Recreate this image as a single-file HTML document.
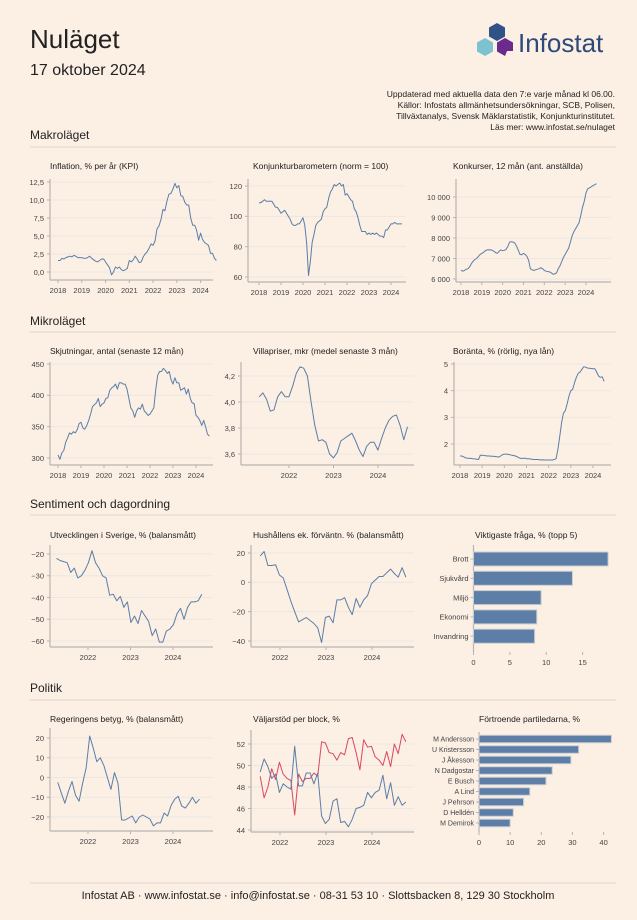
<!DOCTYPE html>
<html><head><meta charset="utf-8">
<style>
html,body{margin:0;padding:0;background:#fcefe4;}
body{width:637px;height:915px;position:relative;overflow:hidden;font-family:"Liberation Sans",sans-serif;color:#2a2a2a;}
svg text{font-family:"Liberation Sans",sans-serif;}
</style></head>
<body>
<svg id="page" width="637" height="915" viewBox="0 0 637 915" xmlns="http://www.w3.org/2000/svg">
  <text x="30" y="48" font-size="26" fill="#222">Nuläget</text>
  <text x="30" y="75" font-size="16" fill="#222">17 oktober 2024</text>
  <g>
    <polygon points="497,23 505,27.5 505,36.5 497,41 489,36.5 489,27.5" fill="#2f5287"/>
    <polygon points="485,38 493,42.5 493,51.5 485,56 477,51.5 477,42.5" fill="#7cc3cf"/>
    <polygon points="505,38 513,42.5 513,51 507,51 505,56 497,51.5 497,42.5" fill="#6a2a8e"/>
    <text x="518" y="52" font-size="26" fill="#2d4a7a">Infostat</text>
  </g>
  <g font-size="8.5" fill="#222" text-anchor="end">
    <text x="615" y="97">Uppdaterad med aktuella data den 7:e varje månad kl 06.00.</text>
    <text x="615" y="108">Källor: Infostats allmänhetsundersökningar, SCB, Polisen,</text>
    <text x="615" y="119">Tillväxtanalys, Svensk Mäklarstatistik, Konjunkturinstitutet.</text>
    <text x="615" y="130">Läs mer: www.infostat.se/nulaget</text>
  </g>
  <g font-size="12" fill="#222">
    <text x="30" y="139">Makroläget</text>
    <text x="30" y="325">Mikroläget</text>
    <text x="30" y="508">Sentiment och dagordning</text>
    <text x="30" y="692">Politik</text>
  </g>
  <g stroke="#e0d6cc" stroke-width="1">
    <line x1="30" x2="616" y1="147" y2="147"/>
    <line x1="30" x2="616" y1="332" y2="332"/>
    <line x1="30" x2="616" y1="515" y2="515"/>
    <line x1="30" x2="616" y1="700" y2="700"/>
    <line x1="30" x2="616" y1="883" y2="883"/>
  </g>
  <text x="318" y="899" font-size="11" fill="#222" text-anchor="middle">Infostat AB  ·  www.infostat.se  ·  info@infostat.se  ·  08-31 53 10  ·  Slottsbacken 8, 129 30  Stockholm</text>
  <g id="charts"></g>
</svg>
<script>
// ---- data ----
const yearsFull=[2018,2019,2020,2021,2022,2023,2024];
const years3=[2022,2023,2024];
const inflTicks=[0,2.5,5,7.5,10,12.5];
const inflValues=[1.6,1.6,1.9,1.8,2.0,2.1,2.2,2.1,2.3,2.2,2.0,2.0, 2.0,1.9,1.9,2.0,2.2,1.9,1.7,1.5,1.4,1.6,1.8,1.8, 1.4,1.0,0.6,-0.4,0.0,0.7,0.5,0.7,0.3,0.2,0.3,0.5, 1.6,1.4,1.7,2.2,1.8,1.3,1.4,2.1,2.5,2.8,3.3,3.9, 3.7,4.3,6.0,6.4,7.3,8.7,8.5,9.8,10.8,10.9,11.5,12.3, 11.7,12.0,10.6,10.5,9.7,9.3,9.3,7.5,6.5,6.5,5.8,4.4, 5.4,4.5,4.1,3.9,3.7,2.6,2.6,1.9,1.6];
const konjTicks=[60,80,100,120];
const konjValues=[109,109,110,111,110,110,110,110,108,106,106,104, 102,103,104,102,100,98,95,94,94,95,95,97, 99,94,82,61,70,83,88,94,96,97,98,103, 105,106,112,116,118,121,120,121,122,120,121,114, 115,113,111,110,105,103,99,94,90,90,90,88, 89,88,89,88,89,88,87,87,86,91,91,93, 95,95,96,95,95,95,95];
const konkTicks=[6000,7000,8000,9000,10000];
const konkValues=[6430,6380,6420,6480,6500,6600,6750,6870,6950,7000,7100,7200, 7250,7300,7380,7420,7430,7420,7400,7350,7280,7260,7350,7420, 7380,7400,7450,7600,7800,7820,7800,7750,7600,7400,7200,7180, 7250,7200,7100,6900,6500,6450,6420,6450,6480,6500,6550,6500, 6420,6380,6360,6350,6300,6230,6250,6300,6500,6650,6850,7050, 7200,7350,7500,7800,8100,8300,8450,8600,8750,9100,9500,9800, 10200,10400,10450,10500,10550,10600,10650];
const skjTicks=[300,350,400,450];
const skjValues=[305,298,308,312,325,332,340,338,342,340,345,355, 357,348,346,352,360,370,382,385,388,395,382,386, 388,395,396,408,412,414,418,410,420,420,418,418, 410,395,380,375,365,375,380,378,386,375,372,368, 370,375,380,410,432,438,438,443,440,435,438,425, 418,428,420,420,408,410,412,402,410,395,388,387, 368,365,360,352,360,350,338,335];
const villaTicks=[3.6,3.8,4.0,4.2];
const villaStart=2021.33;
const villaValues=[4.04,4.07,4.02,3.93,3.94,4.04,4.08,4.04,4.04,4.12,4.22,4.27,4.26,4.20,4.00,3.82,3.70,3.71,3.69,3.60,3.57,3.61,3.70,3.72,3.74,3.76,3.70,3.63,3.58,3.66,3.69,3.69,3.63,3.72,3.80,3.86,3.89,3.90,3.82,3.71,3.81];
const borTicks=[2,3,4,5];
const borValues=[1.55,1.55,1.52,1.48,1.47,1.46,1.46,1.45,1.44,1.43,1.42,1.58, 1.58,1.57,1.56,1.55,1.55,1.54,1.54,1.53,1.52,1.51,1.55,1.60, 1.62,1.62,1.61,1.60,1.58,1.57,1.55,1.52,1.48,1.46,1.46,1.47, 1.45,1.45,1.44,1.43,1.42,1.42,1.42,1.41,1.40,1.41,1.40,1.40, 1.40,1.40,1.40,1.42,1.45,1.80,2.30,2.80,3.15,3.25,3.50,3.80, 4.00,4.05,4.30,4.50,4.65,4.70,4.80,4.90,4.88,4.85,4.84,4.83, 4.82,4.82,4.70,4.55,4.50,4.52,4.35];
const utvTicks=[-60,-50,-40,-30,-20];
const utvStart=2021.26;
const utvValues=[-22,-23,-23.5,-24,-28.5,-26.5,-31,-30,-27.5,-24,-18.5,-24,-26.5,-30,-31,-39,-38.5,-41.5,-39.5,-44.5,-42,-51.5,-48.5,-52,-46,-48.5,-51,-57.5,-54.5,-60.5,-60.5,-55.5,-54.5,-52.5,-47.5,-45,-50,-44.5,-42,-42,-41.5,-38.5];
const hushTicks=[-40,-20,0,20];
const hushStart=2021.57;
const hushValues=[18,21,11.5,11.5,12,5,3,-5,-13,-20,-27,-25.5,-24,-26,-28,-31,-41,-24,-23,-27.5,-12,-12,-10.5,-17,-22,-11,-17,-12,-9,-1,1.5,4,4,6.5,9,6,3.5,10,3.5];
const fragaCats=["Brott","Sjukvård","Miljö","Ekonomi","Invandring"];
const fragaValues=[18.5,13.6,9.3,8.7,8.4];
const fragaTicks=[0,5,10,15];
const regTicks=[-20,-10,0,10,20];
const regStart=2021.29;
const regValues=[-2.5,-8,-13,-7,-2,-9,-12,-3,5,21,15,8,10,6,0,-6,2.5,-3,-21.5,-21.5,-20.5,-19.5,-23,-20,-19,-20,-21,-24.5,-23,-23,-18,-19.5,-14,-11,-9.5,-14.5,-15.5,-13,-10,-13,-11];
const valjTicks=[44,46,48,50,52];
const valjStart=2021.57;
const valjRed=[49,47,48,49.7,48.7,50.3,49.2,48.8,48.6,45.4,49.2,48.5,48.8,48.8,49.3,49,52.2,52.1,51.2,51.1,50.5,51.2,51,52.5,52.6,51.2,49.6,52.4,51.7,51.8,50.8,50.5,50,51.3,49.9,52,51.1,52.9,52.2];
const valjBlue=[49.4,50.6,49.9,48.8,49.2,47.5,48.3,48,47.8,51.8,48.1,48.1,49.3,49.3,48.3,49.3,45.3,44.6,45,46.7,46.9,44.7,44.8,44.3,45,46,46.1,46.3,47.5,47,47.5,47.7,49.1,46.9,48.4,46.3,47.1,46.3,46.6];
const ledCats=["M Andersson","U Kristersson","J Åkesson","N Dadgostar","E Busch","A Lind","J Pehrson","D Helldén","M Demirok"];
const ledValues=[42.5,32,29.5,23.5,21.5,16.3,14.3,11,10];
const ledTicks=[0,10,20,30,40];

// ---- drawing ----
const NS="http://www.w3.org/2000/svg";
const root=document.getElementById('charts');
function el(tag,attrs,parent){const e=document.createElementNS(NS,tag);for(const k in attrs)e.setAttribute(k,attrs[k]);(parent||root).appendChild(e);return e;}
function lin(d0,d1,r0,r1){return v=>r0+(v-d0)*(r1-r0)/(d1-d0);}
function fmt(v,dec){let s=dec?v.toFixed(dec).replace('.',','):String(Math.abs(v)>=1000?String(v).replace(/\B(?=(\d{3})+(?!\d))/g,' '):v);if(v<0&&!dec)s='−'+String(Math.abs(v));return s;}
const BLUE="#5a7ea8",RED="#d9485e",GRID="#ece7e3",AX="#b9b4b0",TXT="#444";

function lineChart(name,title,o){
  const g=el('g',{});
  
  
  const t=el('text',{x:o.tx,y:o.ty,'font-size':8.5,fill:'#222'},g);t.textContent=title;
  
  
  o.yTicks.forEach(v=>{
    const y=o.ys(v);
    el('line',{x1:o.ax,x2:o.right,y1:y,y2:y,stroke:GRID,'stroke-width':1},g);
    el('line',{x1:o.ax-3,x2:o.ax,y1:y,y2:y,stroke:AX,'stroke-width':1},g);
    const tt=el('text',{x:o.ax-6,y:y+2.8,'font-size':7.5,fill:TXT,'text-anchor':'end'},g);
    tt.textContent=o.fmt(v);
    
    
  });
  el('line',{x1:o.ax,x2:o.ax,y1:o.top,y2:o.bottom,stroke:AX,'stroke-width':1.2},g);
  el('line',{x1:o.ax,x2:o.right,y1:o.bottom,y2:o.bottom,stroke:AX,'stroke-width':1.2},g);
  o.xTicks.forEach(yr=>{
    const x=o.xs(yr);
    el('line',{x1:x,x2:x,y1:o.bottom,y2:o.bottom+3,stroke:AX},g);
    const tt=el('text',{x:x,y:o.bottom+13,'font-size':7.5,fill:TXT,'text-anchor':'middle'},g);
    tt.textContent=yr;
    
    
  });
  o.series.forEach(s=>{
    const d=s.values.map((v,i)=>(i?'L':'M')+o.xs(s.start+i/12).toFixed(1)+','+o.ys(v).toFixed(1)).join('');
    const p=el('path',{d:d,fill:'none',stroke:s.color,'stroke-width':1,'stroke-linejoin':'round'},g);
    
    
  });
}
function barChart(name,title,o){
  const g=el('g',{});
  
  
  const t=el('text',{x:o.tx,y:o.ty,'font-size':8.5,fill:'#222'},g);t.textContent=title;
  
  
  el('line',{x1:o.ax,x2:o.ax,y1:o.top,y2:o.bottom,stroke:AX,'stroke-width':1.2},g);
  o.ticks.forEach(v=>{
    const x=o.xs(v);
    el('line',{x1:x,x2:x,y1:o.bottom,y2:o.bottom+3,stroke:AX},g);
    const tt=el('text',{x:x,y:o.bottom+13,'font-size':7.5,fill:TXT,'text-anchor':'middle'},g);
    tt.textContent=v;
    
    
  });
  o.cats.forEach((c,i)=>{
    const yc=o.y0+i*o.step;
    const r=el('rect',{x:o.ax,y:yc-o.bh/2,width:o.xs(o.values[i])-o.ax,height:o.bh,fill:'#5d7ea6',stroke:'#c9cdd3','stroke-width':1},g);
    
    
    el('line',{x1:o.ax-3,x2:o.ax,y1:yc,y2:yc,stroke:AX},g);
    const tt=el('text',{x:o.ax-5,y:yc+2.7,'font-size':o.fs,fill:TXT,'text-anchor':'end'},g);
    tt.textContent=c;
    
    
  });
}
const f0=v=>fmt(v), f1=v=>v.toFixed(1).replace('.',','), fK=v=>String(v).replace(/\B(?=(\d{3})+(?!\d))/g,' '), fNeg=v=>v<0?'−'+Math.abs(v):String(v);

lineChart('inflation-chart','Inflation, % per år (KPI)',{tx:50,ty:169,ax:50,right:213,top:179,bottom:280,xs:lin(2018,2024,58,200.6),ys:lin(0,12.5,272,182),yTicks:inflTicks,xTicks:yearsFull,fmt:f1,series:[{name:'inflation-line',values:inflValues,start:2018,color:BLUE}]});
lineChart('konjunktur-chart','Konjunkturbarometern (norm = 100)',{tx:253,ty:169,ax:248,right:406,top:179,bottom:282,xs:lin(2018,2024,259,391),ys:lin(60,120,277,186),yTicks:konjTicks,xTicks:yearsFull,fmt:f0,series:[{name:'konjunktur-line',values:konjValues,start:2018,color:BLUE}]});
lineChart('konkurser-chart','Konkurser, 12 mån (ant. anställda)',{tx:453,ty:169,ax:456,right:611,top:179,bottom:282,xs:lin(2018,2024,461,586),ys:lin(6000,10000,279,197),yTicks:konkTicks,xTicks:yearsFull,fmt:fK,series:[{name:'konkurser-line',values:konkValues,start:2018,color:BLUE}]});

lineChart('skjutningar-chart','Skjutningar, antal (senaste 12 mån)',{tx:50,ty:354,ax:50,right:213,top:362,bottom:465,xs:lin(2018,2024,58,196),ys:lin(300,450,458,364),yTicks:skjTicks,xTicks:yearsFull,fmt:f0,series:[{name:'skjutningar-line',values:skjValues,start:2018,color:BLUE}]});
lineChart('villapriser-chart','Villapriser, mkr (medel senaste 3 mån)',{tx:253,ty:354,ax:241,right:414,top:362,bottom:465,xs:lin(2022,2024,289,378),ys:lin(3.6,4.2,454,376),yTicks:villaTicks,xTicks:years3,fmt:f1,series:[{name:'villapriser-line',values:villaValues,start:villaStart,color:BLUE}]});
lineChart('boranta-chart','Boränta, % (rörlig, nya lån)',{tx:453,ty:354,ax:454,right:611,top:362,bottom:465,xs:lin(2018,2024,460,593),ys:lin(2,5,444,364),yTicks:borTicks,xTicks:yearsFull,fmt:f0,series:[{name:'boranta-line',values:borValues,start:2018,color:BLUE}]});

lineChart('utvecklingen-chart','Utvecklingen i Sverige, % (balansmått)',{tx:50,ty:538,ax:50,right:213,top:545,bottom:647,xs:lin(2022,2024,88,173),ys:lin(-60,-20,641,554),yTicks:utvTicks,xTicks:years3,fmt:fNeg,series:[{name:'utvecklingen-line',values:utvValues,start:utvStart,color:BLUE}]});
lineChart('hushall-chart','Hushållens ek. förväntn. % (balansmått)',{tx:253,ty:538,ax:251,right:414,top:545,bottom:647,xs:lin(2022,2024,280,372),ys:lin(-40,20,641,553),yTicks:hushTicks,xTicks:years3,fmt:fNeg,series:[{name:'hushall-line',values:hushValues,start:hushStart,color:BLUE}]});
barChart('viktigaste-fraga-chart','Viktigaste fråga, % (topp 5)',{tx:475,ty:538,ax:473.5,top:545,bottom:652,xs:lin(0,15,473.5,582.6),ticks:fragaTicks,cats:fragaCats,values:fragaValues,y0:559,step:19.3,bh:14,fs:7.5});

lineChart('regeringen-chart','Regeringens betyg, % (balansmått)',{tx:50,ty:722,ax:50,right:213,top:728,bottom:831,xs:lin(2022,2024,88,173),ys:lin(-20,20,817,738),yTicks:regTicks,xTicks:years3,fmt:fNeg,series:[{name:'regeringen-line',values:regValues,start:regStart,color:BLUE}]});
lineChart('valjarstod-chart','Väljarstöd per block, %',{tx:253,ty:722,ax:251,right:414,top:730,bottom:832,xs:lin(2022,2024,280,372),ys:lin(44,52,830,744),yTicks:valjTicks,xTicks:years3,fmt:f0,series:[{name:'red-block-line',values:valjRed,start:valjStart,color:RED},{name:'blue-block-line',values:valjBlue,start:valjStart,color:BLUE}]});
barChart('partiledare-chart','Förtroende partiledarna, %',{tx:479,ty:722,ax:479,top:732,bottom:832,xs:lin(0,40,479,603.6),ticks:ledTicks,cats:ledCats,values:ledValues,y0:739,step:10.5,bh:7.5,fs:7});
</script>
</body></html>
